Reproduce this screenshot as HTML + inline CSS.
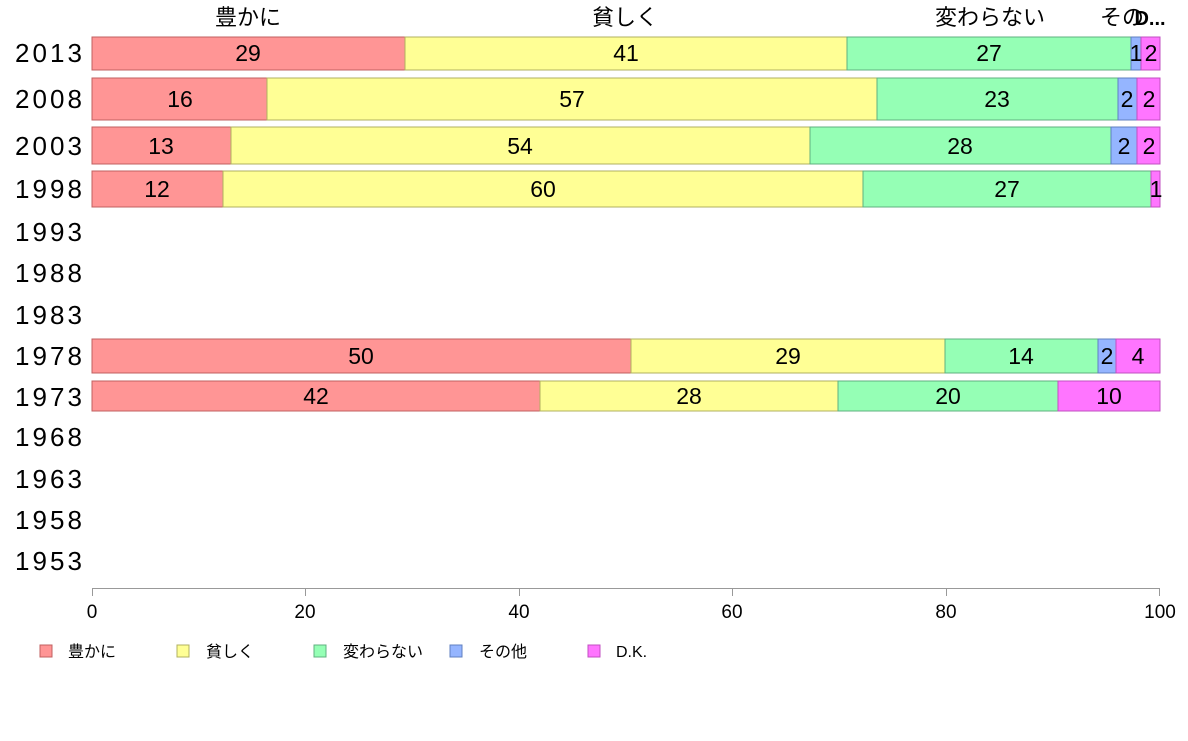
<!DOCTYPE html>
<html><head><meta charset="utf-8"><style>
html,body{margin:0;padding:0;background:#fff;}
svg text{font-family:"Liberation Sans","Noto Sans CJK JP",sans-serif;}
</style></head><body>
<svg width="1188" height="736" xmlns="http://www.w3.org/2000/svg">
<g font-size="22" text-anchor="middle" fill="#000">
<text x="248" y="25">豊かに</text>
<text x="625" y="25">貧しく</text>
<text x="990" y="25">変わらない</text>
<text x="1122" y="25">その</text>
<text x="1150" y="25" font-weight="bold" font-size="20">D...</text>
</g>
<g font-size="26" fill="#000" lengthAdjust="spacingAndGlyphs">
<text x="15" y="62" textLength="67">2013</text><text x="15" y="108" textLength="67">2008</text><text x="15" y="155" textLength="67">2003</text>
<text x="15" y="198" textLength="67">1998</text><text x="15" y="241" textLength="67">1993</text><text x="15" y="282" textLength="67">1988</text>
<text x="15" y="324" textLength="67">1983</text><text x="15" y="365" textLength="67">1978</text><text x="15" y="406" textLength="67">1973</text>
<text x="15" y="446" textLength="67">1968</text><text x="15" y="488" textLength="67">1963</text><text x="15" y="529" textLength="67">1958</text>
<text x="15" y="570" textLength="67">1953</text>
</g>
<g stroke-width="1">
<rect x="92" y="37" width="313" height="33" fill="#ff9595" stroke="#c06060"/>
<rect x="405" y="37" width="442" height="33" fill="#ffff95" stroke="#b0b060"/>
<rect x="847" y="37" width="284" height="33" fill="#95ffb5" stroke="#60b080"/>
<rect x="1131" y="37" width="10" height="33" fill="#95b5ff" stroke="#6080c0"/>
<rect x="1141" y="37" width="19" height="33" fill="#ff75ff" stroke="#c050c0"/>
<rect x="92" y="78" width="175" height="42" fill="#ff9595" stroke="#c06060"/>
<rect x="267" y="78" width="610" height="42" fill="#ffff95" stroke="#b0b060"/>
<rect x="877" y="78" width="241" height="42" fill="#95ffb5" stroke="#60b080"/>
<rect x="1118" y="78" width="19" height="42" fill="#95b5ff" stroke="#6080c0"/>
<rect x="1137" y="78" width="23" height="42" fill="#ff75ff" stroke="#c050c0"/>
<rect x="92" y="127" width="139" height="37" fill="#ff9595" stroke="#c06060"/>
<rect x="231" y="127" width="579" height="37" fill="#ffff95" stroke="#b0b060"/>
<rect x="810" y="127" width="301" height="37" fill="#95ffb5" stroke="#60b080"/>
<rect x="1111" y="127" width="26" height="37" fill="#95b5ff" stroke="#6080c0"/>
<rect x="1137" y="127" width="23" height="37" fill="#ff75ff" stroke="#c050c0"/>
<rect x="92" y="171" width="131" height="36" fill="#ff9595" stroke="#c06060"/>
<rect x="223" y="171" width="640" height="36" fill="#ffff95" stroke="#b0b060"/>
<rect x="863" y="171" width="288" height="36" fill="#95ffb5" stroke="#60b080"/>
<rect x="1151" y="171" width="9" height="36" fill="#ff75ff" stroke="#c050c0"/>
<rect x="92" y="339" width="539" height="34" fill="#ff9595" stroke="#c06060"/>
<rect x="631" y="339" width="314" height="34" fill="#ffff95" stroke="#b0b060"/>
<rect x="945" y="339" width="153" height="34" fill="#95ffb5" stroke="#60b080"/>
<rect x="1098" y="339" width="18" height="34" fill="#95b5ff" stroke="#6080c0"/>
<rect x="1116" y="339" width="44" height="34" fill="#ff75ff" stroke="#c050c0"/>
<rect x="92" y="381" width="448" height="30" fill="#ff9595" stroke="#c06060"/>
<rect x="540" y="381" width="298" height="30" fill="#ffff95" stroke="#b0b060"/>
<rect x="838" y="381" width="220" height="30" fill="#95ffb5" stroke="#60b080"/>
<rect x="1058" y="381" width="102" height="30" fill="#ff75ff" stroke="#c050c0"/>
</g>
<g font-size="23" text-anchor="middle" fill="#000">
<text x="248" y="61">29</text><text x="626" y="61">41</text><text x="989" y="61">27</text><text x="1136" y="61">1</text><text x="1151" y="61">2</text>
<text x="180" y="107">16</text><text x="572" y="107">57</text><text x="997" y="107">23</text><text x="1127" y="107">2</text><text x="1149" y="107">2</text>
<text x="161" y="154">13</text><text x="520" y="154">54</text><text x="960" y="154">28</text><text x="1124" y="154">2</text><text x="1149" y="154">2</text>
<text x="157" y="197">12</text><text x="543" y="197">60</text><text x="1007" y="197">27</text><text x="1156" y="197">1</text>
<text x="361" y="364">50</text><text x="788" y="364">29</text><text x="1021" y="364">14</text><text x="1107" y="364">2</text><text x="1138" y="364">4</text>
<text x="316" y="404">42</text><text x="689" y="404">28</text><text x="948" y="404">20</text><text x="1109" y="404">10</text>
</g>
<g stroke="#999" stroke-width="1">
<line x1="92" y1="588.5" x2="1160" y2="588.5"/>
<line x1="92.5" y1="588" x2="92.5" y2="596"/><line x1="305.5" y1="588" x2="305.5" y2="596"/>
<line x1="519.5" y1="588" x2="519.5" y2="596"/><line x1="732.5" y1="588" x2="732.5" y2="596"/>
<line x1="946.5" y1="588" x2="946.5" y2="596"/><line x1="1159.5" y1="588" x2="1159.5" y2="596"/>
</g>
<g font-size="19" text-anchor="middle" fill="#000">
<text x="92" y="618">0</text><text x="305" y="618">20</text><text x="519" y="618">40</text>
<text x="732" y="618">60</text><text x="946" y="618">80</text><text x="1160" y="618">100</text>
</g>
<g font-size="16" fill="#000">
<rect x="40" y="645" width="12" height="12" fill="#ff9595" stroke="#c06060"/><text x="68" y="657">豊かに</text>
<rect x="177" y="645" width="12" height="12" fill="#ffff95" stroke="#b0b060"/><text x="206" y="657">貧しく</text>
<rect x="314" y="645" width="12" height="12" fill="#95ffb5" stroke="#60b080"/><text x="343" y="657">変わらない</text>
<rect x="450" y="645" width="12" height="12" fill="#95b5ff" stroke="#6080c0"/><text x="479" y="657">その他</text>
<rect x="588" y="645" width="12" height="12" fill="#ff75ff" stroke="#c050c0"/><text x="616" y="657">D.K.</text>
</g>
</svg>
</body></html>
